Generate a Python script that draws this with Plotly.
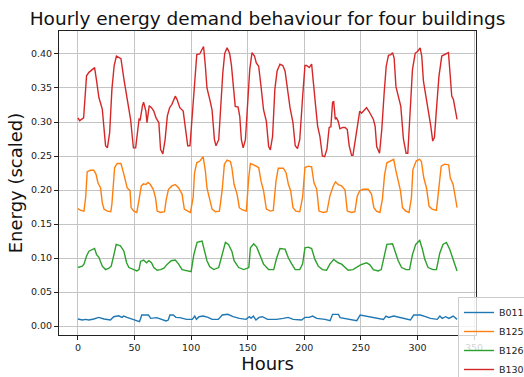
import plotly.graph_objects as go

# ---- data ----
b130_hours = [0,1.5,5,6,7.6,9.7,12.6,14.7,16.5,18.5,21.5,24.4,26,28,30,32,34,36,38,40.6,43.5,46.5,49,51,54,55,57,58,60,61,63,65,67,69,71.5,73,75,77,79,81,83,86,87.6,90,93,95,97,99,101,103,105,107.6,109.7,111,112.6,114,116.5,118.5,120.6,122,124.4,126,128,129.7,131.8,134,135.6,137.6,139,141.5,143,144.4,146,148,150,151.8,153.8,156,157.6,159.7,161.8,164,166.5,168.5,170,172,174,176,178.5,181,183,185,187.4,190,192,194,196,198.5,200.6,202,204.4,206.5,208,210,211.8,213.8,216,218,220,222,223.5,225,226,227.4,228.5,230,231.5,234,236,238,239.7,241.8,243,244.7,246.7,249,250.6,252.6,255,257.4,259.4,261,262.6,264,266.5,268.5,270.6,272.4,274.4,276.5,278,279.4,281,283,285.3,287.6,290,291.5,293.5,295.6,298,300.3,302.4,303.8,305.3,307.6,309.7,311.8,313.5,315,317,319,321.5,323.5,326,327.4,328.8,330.3,331.8,333.2,335]
b130_vals = [0.306,0.302,0.306,0.333,0.368,0.373,0.377,0.380,0.36,0.336,0.319,0.265,0.262,0.284,0.348,0.383,0.397,0.395,0.393,0.363,0.333,0.304,0.262,0.262,0.304,0.303,0.324,0.329,0.316,0.299,0.324,0.321,0.316,0.306,0.299,0.26,0.253,0.274,0.309,0.321,0.326,0.338,0.333,0.321,0.316,0.289,0.265,0.265,0.313,0.367,0.399,0.40,0.406,0.411,0.382,0.35,0.333,0.318,0.274,0.265,0.274,0.323,0.372,0.401,0.409,0.401,0.384,0.348,0.323,0.322,0.308,0.274,0.262,0.274,0.338,0.377,0.402,0.397,0.387,0.382,0.352,0.318,0.301,0.264,0.259,0.279,0.348,0.375,0.385,0.383,0.375,0.348,0.321,0.299,0.265,0.261,0.274,0.336,0.383,0.383,0.380,0.385,0.363,0.324,0.294,0.279,0.25,0.249,0.26,0.292,0.293,0.329,0.33,0.304,0.306,0.301,0.29,0.292,0.292,0.289,0.265,0.251,0.251,0.269,0.292,0.316,0.313,0.316,0.321,0.315,0.309,0.304,0.294,0.264,0.254,0.289,0.343,0.382,0.398,0.399,0.402,0.394,0.352,0.34,0.323,0.275,0.254,0.254,0.323,0.377,0.401,0.404,0.409,0.397,0.36,0.336,0.319,0.294,0.272,0.277,0.323,0.367,0.397,0.399,0.401,0.402,0.372,0.338,0.333,0.319,0.304]

b125_hours = [0,2.4,5.3,6.8,8.2,11,14,16,17.6,20,21.5,23,26,29,30,32.4,34.7,38,40.6,43.5,46,47,49.4,52,54,56,58,60,62,64,66.5,68.5,70,73,76.5,78,80,83,86,89,92,94,97,99.4,101.8,103,105,108,110.6,112.6,114,116.5,118.5,121.5,125,127.4,129.4,131.8,134.7,136,138,140.6,142.6,145,148.8,150.9,152.4,155.3,159.7,161.8,164,166.5,170,172.6,175,177,181.5,184,186,188,190,192.6,196,198.5,200.6,203.5,206.5,208.5,211,213,216.8,220,222.6,225.6,227.6,230,233,236,238,241.8,244.7,246.8,249,252,256.5,259.4,261.5,263.8,266.8,269,271,273,277,279,281,283,285,286.8,289.7,292.6,294.7,296,299,302,303.5,305.6,308,310.3,313,316.8,319,321,324,327.6,329,331.5,333,335]
b125_vals = [0.1725,0.17,0.169,0.189,0.227,0.229,0.229,0.223,0.211,0.203,0.181,0.172,0.169,0.168,0.179,0.233,0.239,0.239,0.223,0.203,0.199,0.174,0.169,0.167,0.186,0.206,0.209,0.208,0.211,0.208,0.201,0.189,0.169,0.167,0.168,0.186,0.201,0.206,0.208,0.203,0.194,0.172,0.169,0.167,0.189,0.225,0.24,0.243,0.249,0.228,0.203,0.186,0.172,0.168,0.169,0.199,0.238,0.244,0.242,0.233,0.208,0.194,0.174,0.171,0.169,0.218,0.239,0.237,0.233,0.213,0.199,0.172,0.169,0.17,0.213,0.232,0.232,0.225,0.208,0.199,0.174,0.169,0.168,0.189,0.233,0.235,0.234,0.211,0.201,0.169,0.167,0.168,0.191,0.206,0.212,0.208,0.206,0.2,0.169,0.167,0.168,0.191,0.199,0.201,0.201,0.194,0.174,0.169,0.167,0.186,0.223,0.24,0.243,0.245,0.228,0.211,0.199,0.174,0.169,0.167,0.189,0.23,0.243,0.245,0.242,0.218,0.203,0.176,0.172,0.17,0.203,0.235,0.238,0.237,0.218,0.208,0.194,0.174]

b126_hours = [0,3.8,5.3,7.6,9.7,12.6,14.7,16.5,18.5,21.5,24.4,27.4,29.4,31.8,33.8,37.6,40.6,43,45,49.4,52,54,55.3,58,60.6,62.6,65,67,70,73,76,79,82.4,86,89,92,96.5,100,102.4,105.3,109.7,111.8,114,116.5,120,124.4,127.4,130.3,133,136,138,142,146.5,151,152.4,155.3,158,161,164,168.5,173,175.6,178.5,183,186,189,192,196,198.5,200.6,203.5,206.5,209.4,212.4,216,219.7,222.6,226,230,233,236,238.8,243,246,249.7,255,258,261,265.3,268,271,273,278,280,283,286,290,293,295.6,298.5,302,304.4,306.5,309.4,313.8,316.8,319.7,322.6,325.6,328.5,331.5,335]
b126_vals = [0.086,0.088,0.091,0.103,0.11,0.113,0.114,0.105,0.101,0.088,0.083,0.085,0.088,0.105,0.12,0.118,0.11,0.093,0.086,0.083,0.081,0.083,0.095,0.097,0.093,0.096,0.093,0.086,0.082,0.083,0.085,0.091,0.096,0.097,0.091,0.083,0.081,0.08,0.105,0.123,0.125,0.11,0.096,0.087,0.083,0.086,0.105,0.123,0.12,0.11,0.096,0.086,0.083,0.086,0.115,0.121,0.116,0.103,0.091,0.083,0.083,0.1,0.114,0.113,0.1,0.091,0.083,0.083,0.091,0.115,0.116,0.114,0.098,0.088,0.083,0.082,0.091,0.098,0.093,0.091,0.086,0.082,0.083,0.086,0.09,0.093,0.09,0.083,0.081,0.083,0.105,0.12,0.121,0.11,0.096,0.086,0.083,0.083,0.105,0.12,0.126,0.113,0.098,0.086,0.083,0.083,0.107,0.12,0.123,0.113,0.098,0.081]

b011_hours = [0,3.8,6.7,9.6,14,18.4,23,28.7,31.6,36,39,40.4,43.3,49,54.4,56.4,62.3,64.3,69.6,77.8,79.8,81.3,84.2,86.6,90,96,101,103.2,104.7,107,110.6,115,118.5,124,127.5,132.5,137,142.7,148.5,151.5,153,155,157.3,160,163,167.5,175.4,181.4,185.8,190.2,197.6,200.6,204.4,207.4,211,218.3,222.8,225,230.2,231.7,239,246.4,249.4,253.8,256.8,264.2,270,272.2,274.6,279,282,287.9,293.8,296.7,302.7,307.1,311.5,317.5,319.8,321.9,324.9,327.8,331.6,335]
b011_vals = [0.0103,0.0088,0.0098,0.0088,0.0103,0.0127,0.0103,0.0088,0.0137,0.015,0.0127,0.0147,0.0127,0.0098,0.0064,0.0162,0.0162,0.0113,0.0123,0.0074,0.0088,0.0162,0.0162,0.0127,0.0123,0.0098,0.0098,0.0147,0.0098,0.0137,0.0147,0.0127,0.0098,0.0098,0.0162,0.0172,0.0137,0.0113,0.0098,0.0137,0.0113,0.0147,0.0088,0.0127,0.0137,0.0098,0.0098,0.0113,0.0127,0.0098,0.0088,0.0127,0.0127,0.0147,0.0113,0.0098,0.0078,0.0172,0.0172,0.0123,0.0098,0.0078,0.0162,0.0147,0.0137,0.0113,0.0098,0.0147,0.0127,0.0147,0.0137,0.0113,0.0088,0.0162,0.0162,0.0137,0.0113,0.0098,0.0147,0.0113,0.0137,0.0113,0.0147,0.0098]

series_names = ["B011", "B125", "B126", "B130"]
series_colors = ["#1f77b4", "#ff7f0e", "#2ca02c", "#d62728"]
x_tick_vals = [0, 50, 100, 150, 200, 250, 300, 350]
y_tick_vals = [0.00, 0.05, 0.10, 0.15, 0.20, 0.25, 0.30, 0.35, 0.40]

all_hours = [b011_hours, b125_hours, b126_hours, b130_hours]
all_vals = [b011_vals, b125_vals, b126_vals, b130_vals]

FONT = "DejaVu Sans"

fig = go.Figure()
for name, color, hx, vy in zip(series_names, series_colors, all_hours, all_vals):
    fig.add_trace(go.Scatter(x=hx, y=vy, mode="lines", name=name,
                             line=dict(color=color, width=1.4)))

axis_common = dict(
    showgrid=True, gridcolor="#c4c4c4", gridwidth=1,
    showline=True, linecolor="#222", linewidth=1, mirror=True,
    ticks="outside", ticklen=4, tickcolor="#222", tickwidth=1,
    zeroline=False, automargin=False,
    tickfont=dict(family=FONT, size=9.5, color="#222"),
)

fig.update_layout(
    width=524, height=377,
    margin=dict(l=59, r=48, t=31, b=42, autoexpand=False),
    paper_bgcolor="white", plot_bgcolor="white",
    font=dict(family=FONT, color="#111"),
    title=dict(text="Hourly energy demand behaviour for four buildings",
               x=(59 + 476) / 2 / 524, xanchor="center", y=1 - 18.5 / 377, yanchor="middle",
               font=dict(family=FONT, size=18.5, color="#111")),
    xaxis=dict(range=[-16.75, 351.75], tickvals=x_tick_vals,
               title=dict(text="Hours", font=dict(family=FONT, size=18, color="#111"), standoff=4),
               **axis_common),
    yaxis=dict(range=[-0.0132, 0.4338], tickvals=y_tick_vals, tickformat=".2f",
               title=dict(text="Energy (scaled)", font=dict(family=FONT, size=18, color="#111"), standoff=3),
               **axis_common),
    legend=dict(x=(458 - 59) / 417, y=(335 - 297) / 304, xanchor="left", yanchor="top",
                bgcolor="rgba(255,255,255,0.8)", bordercolor="#cccccc", borderwidth=1,
                font=dict(family=FONT, size=9.5, color="#222"), tracegroupgap=0,
                itemwidth=30),
    showlegend=True,
)

fig.write_html("out.html")
